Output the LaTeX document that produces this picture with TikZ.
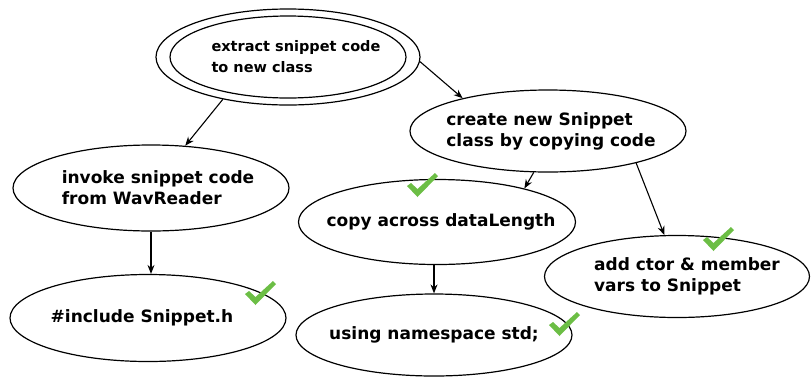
\documentclass[tikz,border=0pt]{standalone}
\usepackage{fontspec}
\setmainfont{DejaVu Sans}[BoldFont=DejaVu Sans Bold]
\usetikzlibrary{shapes.geometric,arrows.meta}
\definecolor{tickgreen}{RGB}{108,190,69}
\begin{document}
\begin{tikzpicture}[x=1pt,y=-1pt,
  box/.style={draw, ellipse, line width=1.2pt, inner sep=0pt},
  lbl/.style={inner sep=0pt, align=left, font=\fontsize{17}{21}\selectfont\bfseries},
  arr/.style={-{Stealth[length=9pt,width=7pt]}, line width=1.1pt},
  tick/.pic={\fill[tickgreen] (0,13) -- (4,10) -- (10.5,16) -- (28,0) -- (31,3) -- (10.5,24) -- cycle;}
]
\useasboundingbox (0,0) rectangle (812,376);
\node[box, minimum width=264pt, minimum height=96pt] (top) at (288,57) {};
\node[box, minimum width=236pt, minimum height=82pt] (topin) at (288,57) {};
\node[lbl, font=\fontsize{14.5}{21}\selectfont\bfseries] (toplbl) at ([xshift=8pt]topin) {extract snippet code\\to new class};
\node[box, minimum width=276pt, minimum height=82pt] (create) at (548,131) {};
\node[lbl] (createlbl) at ([xshift=3pt]create) {create new Snippet\\class by copying code};
\node[box, minimum width=276pt, minimum height=86pt] (invoke) at (151,188) {};
\node[lbl] (invokelbl) at ([xshift=7pt]invoke) {invoke snippet code\\from WavReader};
\node[box, minimum width=277pt, minimum height=85pt] (copy) at (437,222) {};
\node[lbl] (copylbl) at ([xshift=4pt]copy) {copy across dataLength};
\node[box, minimum width=265pt, minimum height=82pt] (add) at (677,276.5) {};
\node[lbl] (addlbl) at ([xshift=10pt]add) {add ctor \& member\\vars to Snippet};
\node[box, minimum width=276pt, minimum height=87pt] (include) at (148,318) {};
\node[lbl] (includelbl) at ([xshift=-6pt]include) {\#include Snippet.h};
\node[box, minimum width=276pt, minimum height=82pt] (using) at (434,335) {};
\node[lbl] (usinglbl) at (using) {using namespace std;};

\draw[arr] (top.-2) -- (create.159);
\draw[arr] (top.213) -- (invoke.51);
\draw[arr] (create.251) -- (copy.21);
\draw[arr] (create.-20) -- (add.107);
\draw[arr] (invoke.south) -- (invoke.south |- include.north);
\draw[arr] (copy.south -| using.north) -- (using.north);

\pic at (407,173) {tick};
\pic at (245,281) {tick};
\pic at (703,227) {tick};
\pic at (549,312) {tick};
\end{tikzpicture}
\end{document}
